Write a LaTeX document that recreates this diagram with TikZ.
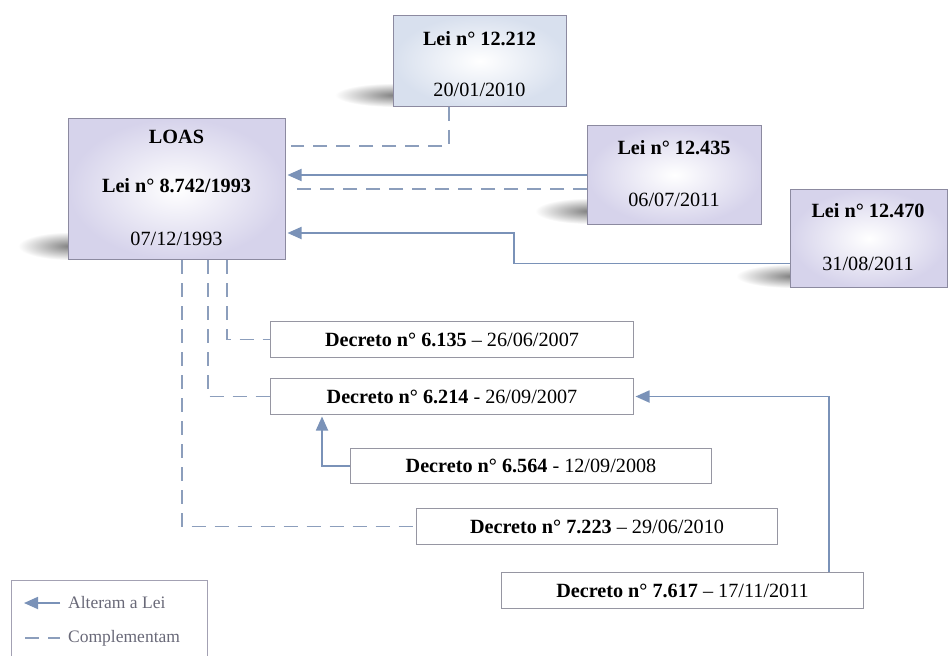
\documentclass[tikz,border=0pt]{standalone}
\usepackage{fontspec}
\setmainfont{Liberation Serif}
\usetikzlibrary{arrows.meta,calc}
\definecolor{linecol}{RGB}{122,146,184}
\definecolor{dashcol}{RGB}{140,158,188}
\definecolor{boxline}{RGB}{140,138,160}
\definecolor{decline}{RGB}{150,150,162}
\definecolor{lav}{RGB}{214,211,235}
\definecolor{lavblue}{RGB}{216,224,238}
\definecolor{legtext}{RGB}{105,105,120}
\tikzset{
 leibox/.style={draw=boxline, line width=1pt, inner color=white, outer color=lav, anchor=north west, inner sep=0pt},
 decbox/.style={draw=decline, line width=1pt, fill=white, anchor=north west, inner sep=0pt, minimum height=36pt, font=\fontsize{20.2}{23}\selectfont},
 boxtext/.style={font=\fontsize{20.2}{23}\selectfont, text=black, inner sep=0pt},
 legtxt/.style={font=\fontsize{17.5}{20}\selectfont, text=legtext, inner sep=0pt, anchor=west},
 arr/.style={draw=linecol, line width=1.8pt, shorten >=1.5pt, -{Triangle[length=14pt,width=12pt]}},
 dashline/.style={draw=dashcol, line width=1.6pt, dash pattern=on 14pt off 9pt},
 softshadow/.style={inner color=black!50, outer color=white, draw=none},
}
\begin{document}
\begin{tikzpicture}[x=1pt,y=-1pt]
\useasboundingbox (0,0) rectangle (949,655);
\fill[white] (0,0) rectangle (949,655);

% soft shadows (partly hidden by the boxes)
\shade[softshadow] (70,246) ellipse [x radius=52pt, y radius=14pt];
\shade[softshadow] (395,95) ellipse [x radius=60pt, y radius=12pt];
\shade[softshadow] (589,211) ellipse [x radius=54pt, y radius=13pt];
\shade[softshadow] (792,276) ellipse [x radius=56pt, y radius=12pt];

% Lei boxes
\node[leibox, minimum width=217pt, minimum height=141pt] (loas) at (68,118) {};
\node[boxtext] (loasA) at (176.5,137) {\textbf{LOAS}};
\node[boxtext] (loasB) at (176.5,186) {\textbf{Lei n° 8.742/1993}};
\node[boxtext] (loasC) at (176.5,239) {07/12/1993};

\node[leibox, outer color=lavblue, minimum width=173pt, minimum height=91pt] (lei12212) at (393,15) {};
\node[boxtext] (l1A) at (479.5,39) {\textbf{Lei n° 12.212}};
\node[boxtext] (l1B) at (479.5,90) {20/01/2010};

\node[leibox, minimum width=174pt, minimum height=99pt] (lei12435) at (587,125) {};
\node[boxtext] (l2A) at (674,148) {\textbf{Lei n° 12.435}};
\node[boxtext] (l2B) at (674,200) {06/07/2011};

\node[leibox, minimum width=157pt, minimum height=98pt] (lei12470) at (790,189) {};
\node[boxtext] (l3A) at (868,211) {\textbf{Lei n° 12.470}};
\node[boxtext] (l3B) at (868,264) {31/08/2011};

% Decreto boxes
\node[decbox, minimum width=363pt] (dec6135) at (270,321) {\textbf{Decreto n° 6.135} – 26/06/2007};
\node[decbox, minimum width=363pt] (dec6214) at (270,378) {\textbf{Decreto n° 6.214} - 26/09/2007};
\node[decbox, minimum width=361pt, minimum height=35pt] (dec6564) at (350,448) {\textbf{Decreto n° 6.564} - 12/09/2008};
\node[decbox, minimum width=361pt] (dec7223) at (416,508) {\textbf{Decreto n° 7.223} – 29/06/2010};
\node[decbox, minimum width=362pt] (dec7617) at (501,572) {\textbf{Decreto n° 7.617} – 17/11/2011};

% connectors to LOAS
\draw[dashline] ($(lei12212.south west)+(56,0)$) |- ($(loas.north east)+(5,28)$);
\draw[arr] (lei12435.west) -- (loas.east |- lei12435.west);
\draw[dashline] ($(lei12435.west)+(0,14)$) -- ($(loas.east |- lei12435.west)+(5,14)$);
\draw[arr] ($(lei12470.west)+(0,25)$) -| ($(loas.south east)+(228,-27)$) -- ($(loas.south east)+(0,-27)$);

% connectors from LOAS to decretos
\draw[dashline] ($(loas.south west)+(159,0)$) |- (dec6135.west);
\draw[dashline] ($(loas.south west)+(140,0)$) |- (dec6214.west);
\draw[dashline] ($(loas.south west)+(114,0)$) |- (dec7223.west);

% decreto changes
\draw[arr] (dec6564.west) -| ($(dec6214.south west)+(52,0)$);
\draw[arr] ($(dec7617.north east)+(-35,0)$) |- (dec6214.east);

% legend
\draw[draw=boxline!80, line width=0.8pt] (11,665) -- (11,580) -- (207,580) -- (207,665);
\coordinate (la1) at (60,603);
\coordinate (la2) at (24,603);
\draw[arr, shorten >=0pt] (la1) -- (la2);
\node[legtxt] (legA) at (68,603) {Alteram a Lei};
\coordinate (lb1) at (25,638);
\coordinate (lb2) at (60,638);
\draw[dashline] (lb1) -- (lb2);
\node[legtxt] (legB) at (68,638) {Complementam};
\end{tikzpicture}
\end{document}
